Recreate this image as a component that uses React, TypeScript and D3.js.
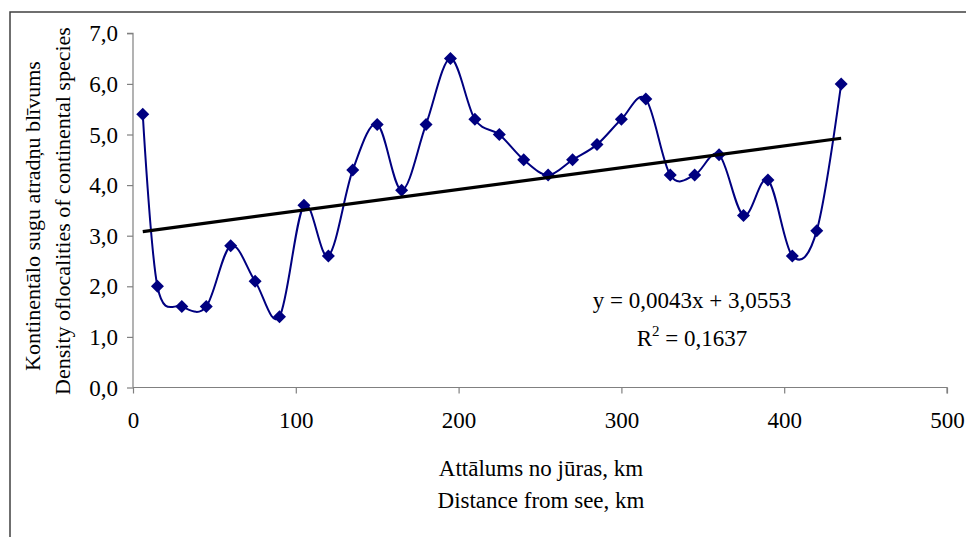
import React, { useEffect, useRef } from "react";
import * as d3 from "d3";

const distances = [6, 15, 30, 45, 60, 75, 90, 105, 120, 135, 150, 165, 180, 195, 210, 225, 240, 255, 270, 285, 300, 315, 330, 345, 360, 375, 390, 405, 420, 435];
const densities = [5.4, 2.0, 1.6, 1.6, 2.8, 2.1, 1.4, 3.6, 2.6, 4.3, 5.2, 3.9, 5.2, 6.5, 5.3, 5.0, 4.5, 4.2, 4.5, 4.8, 5.3, 5.7, 4.2, 4.2, 4.6, 3.4, 4.1, 2.6, 3.1, 6.0];
const xTicks = [0, 100, 200, 300, 400, 500];
const yTicks = [0, 1, 2, 3, 4, 5, 6, 7];
const trendSlope = 0.0043;
const trendIntercept = 3.0553;
const eqLabel = "y = 0,0043x + 3,0553";
const r2Label = "0,1637";

const FONT = "'Liberation Serif', 'Times New Roman', serif";

const Chart = () => {
  const ref = useRef<SVGSVGElement | null>(null);

  useEffect(() => {
    const svg = d3.select(ref.current);
    svg.selectAll("*").remove();

    const x = d3.scaleLinear().domain([0, 500]).range([133, 947]);
    const y = d3.scaleLinear().domain([0, 7]).range([387.5, 33.3]);

    // outer frame (top and left only visible)
    svg.append("path")
      .attr("d", "M10,537 L10,12 L966,12")
      .attr("fill", "none")
      .attr("stroke", "#404040")
      .attr("stroke-width", 1.5);

    // y axis
    const gy = svg.append("g").attr("transform", `translate(${x(0)},0)`)
      .call(d3.axisLeft(y).tickValues(yTicks).tickSize(6).tickFormat((d) => d3.format(".1f")(d as number).replace(".", ",")));
    gy.attr("font-family", null).attr("font-size", null);
    gy.select(".domain").attr("stroke", "#808080").attr("stroke-width", 1.2).attr("d", `M-6,${y(7)}H0V${y(0)}`);
    gy.selectAll(".tick line").attr("stroke", "#808080").attr("stroke-width", 1.2);
    gy.selectAll(".tick text").style("font-family", FONT).style("font-size", "23px").attr("fill", "#000").attr("x", -15).attr("dy", "0.33em");

    // x axis
    const gx = svg.append("g").attr("transform", `translate(0,${y(0)})`)
      .call(d3.axisBottom(x).tickValues(xTicks).tickSize(6).tickFormat(d3.format("d")));
    gx.attr("font-family", null).attr("font-size", null);
    gx.select(".domain").attr("stroke", "#808080").attr("stroke-width", 1.2).attr("d", `M${x(0)},0H${x(500)}V6`);
    gx.selectAll(".tick line").attr("stroke", "#808080").attr("stroke-width", 1.2);
    gx.selectAll(".tick text").style("font-family", FONT).style("font-size", "23px").attr("fill", "#000").attr("y", 40).attr("dy", null);

    // smoothed series
    const pts: [number, number][] = distances.map((d, i) => [d, densities[i]]);
    const line = d3.line<[number, number]>()
      .x((d) => x(d[0]))
      .y((d) => y(d[1]))
      .curve(d3.curveCatmullRom.alpha(0));
    svg.append("path")
      .attr("d", line(pts) as string)
      .attr("fill", "none")
      .attr("stroke", "#000080")
      .attr("stroke-width", 2);

    // diamond markers
    svg.append("g").selectAll("path").data(pts).enter().append("path")
      .attr("d", (d) => {
        const cx = x(d[0]), cy = y(d[1]), r = 6.5;
        return `M${cx},${cy - r}L${cx + r},${cy}L${cx},${cy + r}L${cx - r},${cy}Z`;
      })
      .attr("fill", "#000080");

    // trend line (drawn on top of the series)
    const tx0 = d3.min(distances) as number;
    const tx1 = d3.max(distances) as number;
    svg.append("line")
      .attr("x1", x(tx0)).attr("y1", y(trendSlope * tx0 + trendIntercept))
      .attr("x2", x(tx1)).attr("y2", y(trendSlope * tx1 + trendIntercept))
      .attr("stroke", "#000").attr("stroke-width", 3.2);

    const txt = (sel: d3.Selection<SVGTextElement, unknown, null, undefined>, size = 23) =>
      sel.style("font-family", FONT).style("font-size", `${size}px`).attr("fill", "#000");

    // equation
    svg.append("text").attr("x", 692).attr("y", 308).attr("text-anchor", "middle").call(txt).text(eqLabel);
    const r2 = svg.append("text").attr("x", 692).attr("y", 346).attr("text-anchor", "middle").call(txt);
    r2.append("tspan").text("R");
    r2.append("tspan").attr("dy", -10).style("font-size", "15px").text("2");
    r2.append("tspan").attr("dy", 10).text(" = " + r2Label);

    // axis titles
    svg.append("text").attr("x", 541).attr("y", 476).attr("text-anchor", "middle").call(txt).text("Attālums no jūras, km");
    svg.append("text").attr("x", 541).attr("y", 508).attr("text-anchor", "middle").call(txt).text("Distance from see, km");

    svg.append("text").attr("transform", "translate(40,216) rotate(-90)").attr("text-anchor", "middle")
      .call(txt, 22).text("Kontinentālo sugu atradņu blīvums");
    svg.append("text").attr("transform", "translate(70,211) rotate(-90)").attr("text-anchor", "middle")
      .call(txt, 22).text("Density oflocalities of continental species");
  });

  return <svg ref={ref} width={966} height={537} style={{ position: "absolute", left: 0, top: 0, background: "#fff" }} />;
};

export default function App() {
  return <Chart />;
}
